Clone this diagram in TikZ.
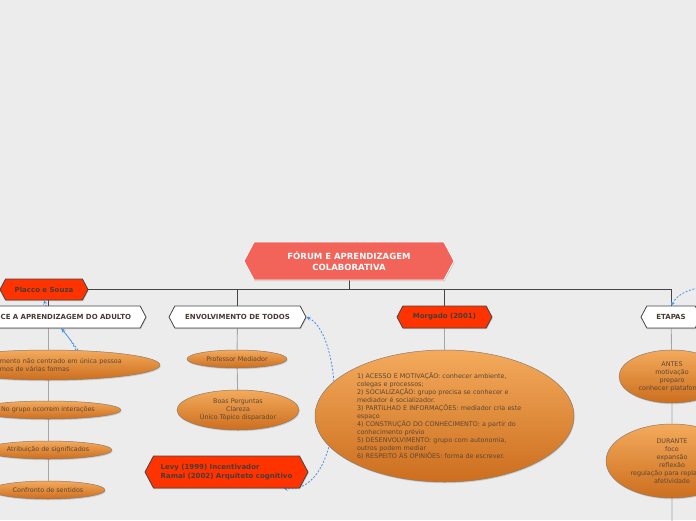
\documentclass[tikz,border=0pt]{standalone}
\usepackage{fontspec}
\setmainfont{DejaVu Sans}
\usetikzlibrary{shapes.symbols,shapes.geometric,backgrounds,shadows}
\definecolor{bgc}{HTML}{ECECEC}
\definecolor{rootred}{HTML}{F26359}
\definecolor{nodered}{HTML}{FF3300}
\definecolor{edgec}{HTML}{454545}
\definecolor{textc}{HTML}{4A3A34}
\definecolor{elltop}{HTML}{F4AA5C}
\definecolor{ellbot}{HTML}{CC6E1E}
\definecolor{ellc}{HTML}{8C7B6B}
\definecolor{ideatext}{HTML}{5E4632}
\definecolor{relblue}{HTML}{4A90E2}
\tikzset{
  hexa/.style={signal,signal from=nowhere,signal to=east and west,signal pointer angle=124,
    draw=edgec,line width=0.8pt,inner sep=2pt,align=center,
    drop shadow={shadow xshift=0.6pt,shadow yshift=-1.2pt,opacity=0.3,fill=black!60}},
  hexroot/.style={hexa,draw=white,fill=rootred,text=white,font=\bfseries\fontsize{8.5}{11}\selectfont},
  hexwhite/.style={hexa,fill=white,text=textc,font=\bfseries\fontsize{7}{9}\selectfont},
  hexred/.style={hexa,fill=nodered,text=textc,font=\bfseries\fontsize{7}{9}\selectfont},
  idea/.style={ellipse,draw=ellc,line width=0.5pt,inner sep=0pt,top color=elltop,bottom color=ellbot,
    text=ideatext,font=\fontsize{6.4}{8}\selectfont,align=center,
    drop shadow={shadow xshift=0.6pt,shadow yshift=-1.2pt,opacity=0.25,fill=black!60}},
  trunk/.style={draw=edgec,line width=0.8pt},
  branch/.style={draw=black!35,line width=0.9pt},
  relation/.style={draw=relblue,dash pattern=on 2pt off 1.6pt,line width=0.8pt,>=stealth},
}
\begin{document}
\begin{tikzpicture}[x=1pt,y=-1pt]
\useasboundingbox (0,0) rectangle (696,520);
\begin{scope}[on background layer]
  \fill[bgc] (0,0) rectangle (696,520);
\end{scope}
\clip (0,0) rectangle (696,520);

% main topic and first level
\node[hexroot,minimum width=210,minimum height=38] (root) at (349,261) {FÓRUM E APRENDIZAGEM\\COLABORATIVA};
\node[hexwhite,minimum width=196,minimum height=22,text width=166,align=right] (adulto) at (48,317) {CE A APRENDIZAGEM DO ADULTO};
\node[hexwhite,minimum width=137,minimum height=22] (envolv) at (237.5,317) {ENVOLVIMENTO DE TODOS};
\node[hexred,minimum width=95,minimum height=22] (morgado) at (444.5,317) {Morgado (2001)};
\node[hexwhite,minimum width=60,minimum height=22] (etapas) at (671,317) {ETAPAS};

% floating topics
\node[hexred,minimum width=88,minimum height=21] (placco) at (44,289.5) {Placco e Souza};
\node[hexred,minimum width=163,minimum height=32,align=left] (levy) at (226.5,472) {Levy (1999) Incentivador\\Ramal (2002) Arquiteto cognitivo};

% ideas
\node[idea,minimum width=224,minimum height=30,text width=150,align=left] (e11) at (48,365) {\hspace*{27pt}mento não centrado em única pessoa\\\hspace*{27pt}mos de várias formas};
\node[idea,minimum width=146,minimum height=18] (e12) at (48,410) {No grupo ocorrem interações};
\node[idea,minimum width=128,minimum height=18] (e13) at (48,450) {Atribuição de significados};
\node[idea,minimum width=114,minimum height=18] (e14) at (48,490) {Confronto de sentidos};
\node[idea,minimum width=100,minimum height=18] (e21) at (237,359) {Professor Mediador};
\node[idea,minimum width=122,minimum height=40] (e22) at (238,410) {Boas Perguntas\\Clareza\\Único Tópico disparador};
\node[idea,minimum width=259,minimum height=132,text width=175,align=left] (e31) at (444.5,416) {1) ACESSO E MOTIVAÇÃO: conhecer ambiente,\\colegas e processos;\\2) SOCIALIZAÇÃO:  grupo precisa se conhecer e\\mediador é socializador.\\3) PARTILHAD E  INFORMAÇÕES: mediador cria este\\espaço\\4) CONSTRUÇÃO DO CONHECIMENTO: a partir do\\conhecimento prévio\\5) DESENVOLVIMENTO: grupo com autonomia,\\outros podem mediar\\6) RESPEITO ÀS OPINIÕES: forma de escrever.};
\node[idea,minimum width=106,minimum height=53] (e41) at (672,376.5) {ANTES\\motivação\\preparo\\conhecer plataforma};
\node[idea,minimum width=132,minimum height=74] (e42) at (672,461) {DURANTE\\foco\\expansão\\reflexão\\regulação para replanejar\\afetividade};
\coordinate (etapasend) at (672,530);
\coordinate (etapasrel) at (705,287);

\begin{scope}[on background layer]
  \draw[trunk] (root.south) -- ++(0,9) -| (adulto.north -| e11);
  \draw[trunk] (root.south) -- ++(0,9) -| (envolv.north);
  \draw[trunk] (root.south) -- ++(0,9) -| (morgado.north);
  \draw[trunk] (root.south) -- ++(0,9) -| (etapas.north);
  \draw[branch] (adulto.south -| e11) -- (e11) -- (e12) -- (e13) -- (e14);
  \draw[branch] (envolv) -- (e21) -- (e22);
  \draw[branch] (morgado) -- (e31);
  \draw[branch] (etapas) -- (e41) -- (e42) -- (etapasend);
  % relations
  \draw[relation,->] (e11.26) .. controls (68,335) and (50,318) .. (placco.south);
  \draw[relation,->] (e11.28) .. controls (72,342) .. (adulto.-40);
  \draw[relation,<->] (envolv.east) .. controls (345,335) and (348,495) .. (levy.-16);
  \draw[relation,->] (etapasrel) .. controls (688,289) and (678,294) .. (etapas.north);
\end{scope}
\end{tikzpicture}
\end{document}
